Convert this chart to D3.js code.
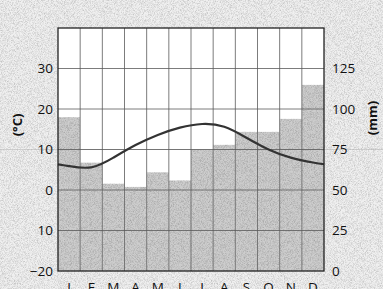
<!DOCTYPE html>
<meta charset="utf-8">
<style>
    body { margin: 0; background: #dcdcdc; }
    svg { display: block; }
    .tick-label { font: 13.5px "Open Sans", sans-serif; fill: #111; }
    .axis-title { font: bold 13px "Open Sans", sans-serif; fill: #111; }
</style>
<body>
<svg width="383" height="289"></svg>
<script src="https://d3js.org/d3.v7.min.js"></script>
<script>
    // climogramme : températures (°C) et précipitations (mm)
    const months = ["J", "F", "M", "A", "M", "J", "J", "A", "S", "O", "N", "D"];
    const temperature = [5.9, 5.6, 8.0, 11.1, 13.6, 15.4, 16.3, 15.6, 12.9, 10.0, 8.0, 6.8];
    const precipitation = [95, 67, 54, 52, 61, 56, 75, 78, 86, 86, 94, 115];
    const tempTicks = [-20, -10, 0, 10, 20, 30];
    const tempTickLabels = ["\u221220", "10", "0", "10", "20", "30"];
    const precTicks = [0, 25, 50, 75, 100, 125];

    const svg = d3.select("svg");
    const width = +svg.attr("width");
    const height = +svg.attr("height");
    const margin = { top: 28, right: 59, bottom: 18, left: 58 };

    // texture grain
    const defs = svg.append("defs");
    const grain = defs.append("filter").attr("id", "grain")
        .attr("x", 0).attr("y", 0).attr("width", 1).attr("height", 1);
    grain.append("feTurbulence").attr("type", "fractalNoise")
        .attr("baseFrequency", 1.3).attr("numOctaves", 2).attr("seed", 3).attr("result", "noise");
    grain.append("feColorMatrix").attr("in", "noise").attr("type", "matrix")
        .attr("values", "0.8 0 0 0 0.5  0.8 0 0 0 0.5  0.8 0 0 0 0.5  0 0 0 0 1")
        .attr("result", "gray");
    grain.append("feBlend").attr("mode", "multiply").attr("in", "SourceGraphic").attr("in2", "gray").attr("result", "mix");
    grain.append("feComposite").attr("in", "mix").attr("in2", "SourceGraphic").attr("operator", "in");

    svg.append("rect").attr("width", width).attr("height", height)
        .attr("fill", "#f0f0f0").attr("filter", "url(#grain)");

    const x = d3.scaleBand()
        .domain(d3.range(months.length))
        .range([margin.left, width - margin.right])
        .padding(0);
    const yT = d3.scaleLinear().domain([-20, 40]).range([height - margin.bottom, margin.top]);
    const yP = d3.scaleLinear().domain([0, 150]).range([height - margin.bottom, margin.top]);

    // fond blanc
    svg.append("rect")
        .attr("x", margin.left).attr("y", margin.top)
        .attr("width", width - margin.left - margin.right)
        .attr("height", height - margin.top - margin.bottom)
        .attr("fill", "#fff");

    // barres de précipitations
    svg.append("g")
        .selectAll("rect")
        .data(precipitation)
        .join("rect")
        .attr("x", (d, i) => x(i))
        .attr("y", d => yP(d))
        .attr("width", x.bandwidth())
        .attr("height", d => yP(0) - yP(d))
        .attr("fill", "#cdcdcd")
        .attr("filter", "url(#grain)");

    // ligne de pli du papier
    svg.append("line")
        .attr("x1", 0).attr("x2", width)
        .attr("y1", yT(10)).attr("y2", yT(10))
        .attr("stroke", "#999").attr("stroke-width", 0.6).attr("opacity", 0.6);

    // quadrillage
    const grid = svg.append("g").attr("stroke", "#5a5a5a").attr("stroke-width", 0.8);
    grid.selectAll(".h")
        .data(tempTicks.filter(t => t > -20))
        .join("line")
        .attr("x1", margin.left).attr("x2", width - margin.right)
        .attr("y1", d => yT(d)).attr("y2", d => yT(d));
    grid.selectAll(".v")
        .data(d3.range(1, months.length))
        .join("line")
        .attr("x1", d => x(d)).attr("x2", d => x(d))
        .attr("y1", margin.top).attr("y2", height - margin.bottom);

    // courbe des températures (bouclée déc. -> janv. aux bords)
    const edge = (temperature[0] + temperature[temperature.length - 1]) / 2;
    const pts = [[x(0), edge]]
        .concat(temperature.map((t, i) => [x(i) + x.bandwidth() / 2, t]))
        .concat([[x(months.length - 1) + x.bandwidth(), edge]]);
    svg.append("path")
        .datum(pts)
        .attr("fill", "none")
        .attr("stroke", "#333")
        .attr("stroke-width", 2.2)
        .attr("d", d3.line().x(d => d[0]).y(d => yT(d[1])).curve(d3.curveNatural));

    // cadre
    svg.append("rect")
        .attr("x", margin.left).attr("y", margin.top)
        .attr("width", width - margin.left - margin.right)
        .attr("height", height - margin.top - margin.bottom)
        .attr("fill", "none").attr("stroke", "#222").attr("stroke-width", 1.3);

    // étiquettes
    svg.selectAll(".lt")
        .data(tempTicks)
        .join("text")
        .attr("class", "tick-label")
        .attr("x", margin.left - 5)
        .attr("y", d => yT(d))
        .attr("dy", "0.36em")
        .attr("text-anchor", "end")
        .text((d, i) => tempTickLabels[i]);

    svg.selectAll(".rt")
        .data(precTicks)
        .join("text")
        .attr("class", "tick-label")
        .attr("x", width - margin.right + 8)
        .attr("y", d => yP(d))
        .attr("dy", "0.36em")
        .text(d => d);

    // mois : coupés au bas de l'image comme dans l'original
    svg.selectAll(".mt")
        .data(months)
        .join("text")
        .attr("class", "tick-label")
        .attr("x", (d, i) => x(i) + x.bandwidth() / 2)
        .attr("y", height - margin.bottom + 21)
        .attr("text-anchor", "middle")
        .text(d => d);

    svg.append("text")
        .attr("class", "axis-title")
        .attr("transform", "translate(22,125) rotate(-90)")
        .attr("text-anchor", "middle")
        .text("(°C)");

    svg.append("text")
        .attr("class", "axis-title")
        .attr("transform", "translate(377,118) rotate(-90)")
        .attr("text-anchor", "middle")
        .text("(mm)");
</script>
</body>
